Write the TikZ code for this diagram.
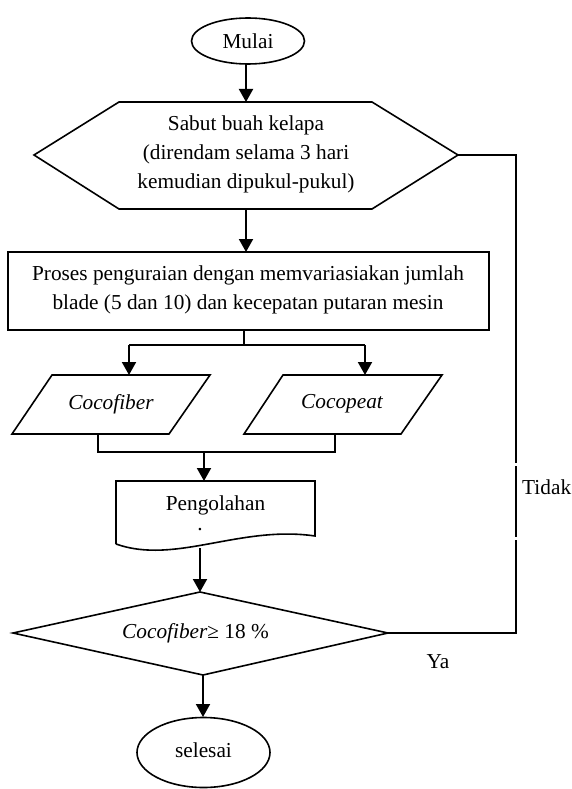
\documentclass[tikz,border=0pt]{standalone}
\usepackage{fontspec}
\setmainfont{Liberation Serif}
\usetikzlibrary{arrows.meta}
\begin{document}
\begin{tikzpicture}[x=1pt,y=-1pt,
  shapeline/.style={draw=black,line width=1.6pt,line join=miter},
  conn/.style={draw=black,line width=1.6pt},
  arr/.style={draw=black,line width=2pt,-{Triangle[width=14pt,length=13pt]}},
  txt/.style={font=\fontsize{21.3}{29}\selectfont,align=center,inner sep=0pt},
  itxt/.style={txt,font=\fontsize{21.3}{29}\selectfont\itshape}]
\useasboundingbox[fill=white] (0,0) rectangle (572,789);

% Mulai
\draw[shapeline] (248,41) ellipse [x radius=56.5, y radius=23];
\node[txt] (mulai) at (248,41) {Mulai};
\coordinate (mulaiS) at (246,64);

% Hexagon
\coordinate (hexN) at (246,102);
\coordinate (hexS) at (246,209);
\coordinate (hexE) at (458,155);
\draw[shapeline] (34,155) -- (119,102) -- (372,102) -- (hexE) -- (372,209) -- (119,209) -- cycle;
\node[txt] (sabut) at (246,154) {Sabut buah kelapa\\(direndam selama 3 hari\\kemudian dipukul-pukul)};

% Process rectangle
\coordinate (procN) at (246,252);
\coordinate (procS) at (244,330);
\draw[shapeline] (8,252) rectangle (489,330);
\node[txt] (proses) at (248,290) {Proses penguraian dengan memvariasiakan jumlah\\blade (5 dan 10) dan kecepatan putaran mesin};

% Branch
\coordinate (br) at (244,345);
\coordinate (brL) at (129,345);
\coordinate (brR) at (365,345);
\coordinate (fibN) at (129,375);
\coordinate (peatN) at (365,375);

% Parallelograms
\draw[shapeline] (52,375) -- (210,375) -- (169,434) -- (12,434) -- cycle;
\node[itxt] (fiber) at (111,404) {Cocofiber};
\draw[shapeline] (283,375) -- (442,375) -- (401,434) -- (244,434) -- cycle;
\node[itxt] (peat) at (342,404) {Cocopeat};
\coordinate (fibS) at (98,434);
\coordinate (peatS) at (335,434);
\coordinate (joinL) at (98,452);
\coordinate (joinR) at (335,452);
\coordinate (join) at (204,452);

% Document shape
\coordinate (docN) at (204,481);
\draw[shapeline] (116,544) -- (116,481) -- (315,481) -- (315,536)
   .. controls (240,525) and (175,565) .. (116,544);
\node[txt] (olah) at (215.5,505) {Pengolahan};
\node[txt] (dot) at (200,530) {.};
\coordinate (docS) at (200,548);

% Diamond
\coordinate (dN) at (200,592);
\coordinate (dE) at (388,633);
\coordinate (dS) at (203,675);
\coordinate (dW) at (13,633);
\draw[shapeline] (dN) -- (dE) -- (dS) -- (dW) -- cycle;
\node[txt] (cond) at (195.5,633) {\itshape Cocofiber\upshape≥ 18 \%};

% Selesai
\draw[shapeline] (203.5,752.5) ellipse [x radius=66.5, y radius=35];
\node[txt] (selesai) at (203.5,750) {selesai};
\coordinate (selN) at (203,717);

% Connectors
\draw[arr] (mulaiS) -- (hexN);
\draw[arr] (hexS) -- (procN);
\draw[conn] (procS) -- (br);
\draw[conn] (brL) -- (brR);
\draw[arr] (brL) -- (fibN);
\draw[arr] (brR) -- (peatN);
\draw[conn] (fibS) -- (joinL) -- (joinR) -- (peatS);
\draw[arr] (join) -- (docN);
\draw[arr] (docS) -- (dN);
\draw[arr] (dS) -- (selN);

% Feedback loop (Tidak)
\coordinate (loopB) at (516,633);
\coordinate (gap1a) at (516,539.5);
\coordinate (gap1b) at (516,536.5);
\coordinate (gap2a) at (516,465.5);
\coordinate (gap2b) at (516,462.5);
\coordinate (loopT) at (516,155);
\draw[conn] (dE) -- (loopB) -- (gap1a);
\draw[conn] (gap1b) -- (gap2a);
\draw[conn] (gap2b) -- (loopT) -- (hexE);
\node[txt,anchor=west] (tidak) at (522,487) {Tidak};
\node[txt] (ya) at (438,662) {Ya};
\end{tikzpicture}
\end{document}
